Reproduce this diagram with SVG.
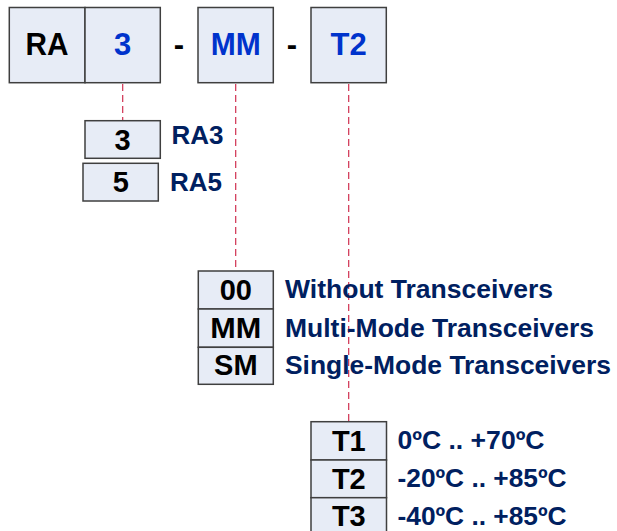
<svg xmlns="http://www.w3.org/2000/svg" width="617" height="531" viewBox="0 0 617 531">
<style>
.box{fill:#E7ECF6;stroke:#3f3f3f;stroke-width:1.5}
.bt{font-family:"Liberation Sans",Arial,sans-serif;font-weight:bold;font-size:31px;fill:#000;text-anchor:middle}
.sb{font-size:29px}
.blue{fill:#0033CC}
.lb{font-family:"Liberation Sans",Arial,sans-serif;font-weight:bold;font-size:25.5px;fill:#002060}
.conn{stroke:#D03050;stroke-width:1.2;stroke-dasharray:7,4;fill:none}
</style>
<rect width="617" height="531" fill="#fff"/>
<g id="connectors">
<line class="conn" x1="122.7" y1="84" x2="122.7" y2="120"/>
<line class="conn" x1="235.7" y1="84" x2="235.7" y2="270"/>
<line class="conn" x1="348.7" y1="84" x2="348.7" y2="421"/>
</g>
<g id="code">
<rect class="box" x="9.3" y="7.5" width="75.7" height="75.2"/>
<rect class="box" x="85" y="7.5" width="75.3" height="75.2"/>
<text class="bt" x="47" y="55" textLength="43" lengthAdjust="spacingAndGlyphs">RA</text>
<text class="bt blue" x="122.6" y="55">3</text>
<text class="bt" x="179" y="55">-</text>
<rect class="box" x="198" y="7.5" width="75.3" height="75.2"/>
<text class="bt blue" x="235.7" y="55" textLength="50" lengthAdjust="spacingAndGlyphs">MM</text>
<text class="bt" x="292" y="55">-</text>
<rect class="box" x="311" y="7.5" width="75.3" height="75.2"/>
<text class="bt blue" x="348.7" y="55">T2</text>
</g>
<g id="ra-options">
<rect class="box" x="85" y="120.7" width="75.3" height="37.6"/>
<text class="bt sb" x="122.6" y="149.5">3</text>
<text class="lb" x="171.5" y="143.5" textLength="52" lengthAdjust="spacingAndGlyphs">RA3</text>
<rect class="box" x="83" y="163.3" width="75.3" height="37.7"/>
<text class="bt sb" x="120.7" y="191.5">5</text>
<text class="lb" x="170" y="190.5" textLength="52" lengthAdjust="spacingAndGlyphs">RA5</text>
</g>
<g id="mode-options">
<rect class="box" x="198.3" y="271" width="75" height="38"/>
<rect class="box" x="198.3" y="309" width="75" height="38.3"/>
<rect class="box" x="198.3" y="347.3" width="75" height="37"/>
<text class="bt sb" x="235.8" y="299.5">00</text>
<text class="bt sb" x="235.8" y="337.5" textLength="51" lengthAdjust="spacingAndGlyphs">MM</text>
<text class="bt sb" x="235.8" y="374.5">SM</text>
<text class="lb" x="285" y="298" textLength="268" lengthAdjust="spacingAndGlyphs">Without Transceivers</text>
<text class="lb" x="285" y="336.5" textLength="309" lengthAdjust="spacingAndGlyphs">Multi-Mode Transceivers</text>
<text class="lb" x="285" y="373.5" textLength="326" lengthAdjust="spacingAndGlyphs">Single-Mode Transceivers</text>
</g>
<g id="temp-options">
<rect class="box" x="311" y="421.7" width="75.5" height="38.3"/>
<rect class="box" x="311" y="460" width="75.5" height="37.7"/>
<rect class="box" x="311" y="497.7" width="75.5" height="40"/>
<text class="bt sb" x="348.8" y="450.5">T1</text>
<text class="bt sb" x="348.8" y="488.5">T2</text>
<text class="bt sb" x="348.8" y="526">T3</text>
<text class="lb" x="397.5" y="448.5" textLength="147" lengthAdjust="spacingAndGlyphs">0ºC .. +70ºC</text>
<text class="lb" x="397.5" y="487" textLength="169" lengthAdjust="spacingAndGlyphs">-20ºC .. +85ºC</text>
<text class="lb" x="397.5" y="525" textLength="169" lengthAdjust="spacingAndGlyphs">-40ºC .. +85ºC</text>
</g>
</svg>
